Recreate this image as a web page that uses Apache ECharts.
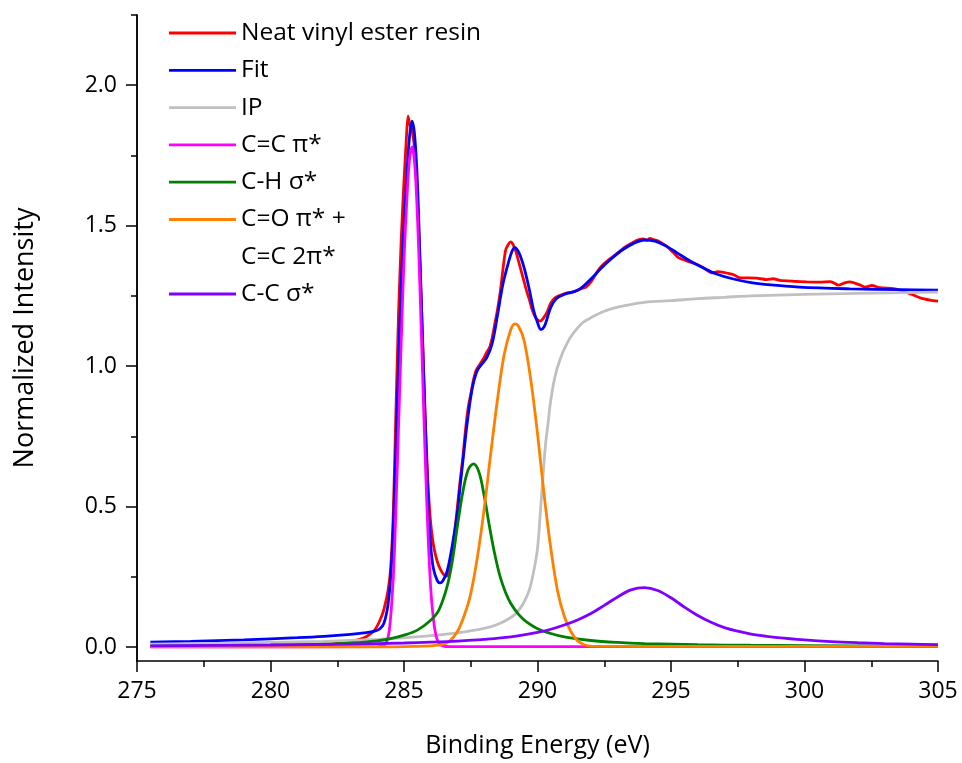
<!DOCTYPE html>
<html>
<head>
<meta charset="utf-8">
<script src="https://cdn.jsdelivr.net/npm/echarts@6/dist/echarts.min.js"></script>
<style>
  html, body { margin: 0; padding: 0; background: #fff; }
  #chart { width: 962px; height: 763px; }
</style>
</head>
<body>
<div id="chart"></div>
<script>
// NEXAFS carbon K-edge spectrum of neat vinyl ester resin and its peak fit

// Measured spectrum
const dataEnergy = [275.5, 277, 278.5, 280, 281, 282, 282.5, 283, 283.3, 283.6, 283.9, 284.1, 284.25, 284.4, 284.5,
  284.6, 284.7, 284.8, 284.9, 285.0, 285.1, 285.15, 285.22, 285.3, 285.4, 285.5, 285.6, 285.7, 285.8, 285.9,
  286.0, 286.1, 286.2, 286.3, 286.4, 286.5, 286.6, 286.7, 286.8, 286.9, 287.0, 287.1, 287.2, 287.3, 287.4,
  287.5, 287.6, 287.7, 287.8, 287.9, 288.0, 288.1, 288.2, 288.3, 288.4, 288.5, 288.6, 288.7, 288.8, 288.9,
  289.0, 289.1, 289.2, 289.3, 289.4, 289.5, 289.6, 289.7, 289.8, 289.9, 290.0, 290.1, 290.2, 290.35, 290.5,
  290.66, 290.85, 291.1, 291.35, 291.6, 291.8, 292.0, 292.2, 292.34, 292.5, 292.71, 292.9, 293.09, 293.3, 293.59,
  293.8, 293.96, 294.1, 294.21, 294.35, 294.52, 294.7, 294.84, 295.09, 295.28, 295.59, 295.9, 296.21, 296.52, 296.75,
  296.96, 297.33, 297.58, 297.9, 298.21, 298.58, 298.83, 299.08, 299.58, 300.08, 300.58, 300.96, 301.08, 301.27, 301.5,
  301.7, 302.02, 302.27, 302.52, 302.83, 303.33, 303.58, 303.95, 304.33, 304.7, 305.0];
const dataIntensity = [0.004, 0.004, 0.005, 0.006, 0.007, 0.01, 0.013, 0.02, 0.026, 0.037, 0.06, 0.095, 0.135, 0.2, 0.28,
  0.48, 0.85, 1.2, 1.46, 1.66, 1.83, 1.89, 1.86, 1.84, 1.77, 1.6, 1.36, 1.08, 0.8, 0.58,
  0.44, 0.365, 0.32, 0.29, 0.27, 0.256, 0.252, 0.27, 0.33, 0.41, 0.5, 0.59, 0.67, 0.77, 0.85,
  0.9, 0.95, 0.985, 1.0, 1.015, 1.03, 1.05, 1.065, 1.1, 1.15, 1.2, 1.26, 1.34, 1.41, 1.432,
  1.442, 1.43, 1.405, 1.37, 1.335, 1.3, 1.265, 1.235, 1.2, 1.178, 1.165, 1.16, 1.168, 1.19, 1.225,
  1.243, 1.252, 1.261, 1.264, 1.275, 1.28, 1.3, 1.33, 1.35, 1.365, 1.382, 1.395, 1.409, 1.425, 1.441,
  1.45, 1.453, 1.448, 1.455, 1.45, 1.445, 1.435, 1.427, 1.404, 1.386, 1.374, 1.365, 1.35, 1.332, 1.336,
  1.334, 1.326, 1.314, 1.314, 1.313, 1.308, 1.311, 1.305, 1.302, 1.3, 1.299, 1.301, 1.297, 1.288, 1.296,
  1.3, 1.291, 1.281, 1.287, 1.279, 1.276, 1.27, 1.258, 1.243, 1.235, 1.231];

// Total fit
const fitEnergy = [275.5, 277, 279, 281, 282, 283, 283.5, 283.9, 284.1, 284.25, 284.4, 284.5, 284.6, 284.7, 284.8,
  284.9, 285.0, 285.1, 285.2, 285.3, 285.4, 285.5, 285.6, 285.7, 285.8, 285.9, 286.0, 286.1, 286.25, 286.35,
  286.45, 286.6, 286.75, 286.85, 287.0, 287.1, 287.25, 287.35, 287.5, 287.6, 287.75, 287.9, 288.1, 288.3, 288.5,
  288.7, 288.9, 289.05, 289.15, 289.3, 289.5, 289.7, 289.85, 290.0, 290.13, 290.25, 290.35, 290.5, 290.7, 291.0,
  291.3, 291.6, 292.0, 292.4, 292.8, 293.2, 293.6, 294.0, 294.4, 294.8, 295.2, 295.7, 296.2, 296.7, 297.3,
  298.0, 298.6, 299.8, 301.7, 303.6, 305.0];
const fitIntensity = [0.017, 0.02, 0.025, 0.033, 0.038, 0.045, 0.05, 0.056, 0.065, 0.085, 0.15, 0.25, 0.43, 0.72, 1.02,
  1.3, 1.5, 1.67, 1.81, 1.872, 1.82, 1.66, 1.38, 1.08, 0.79, 0.53, 0.36, 0.28, 0.235, 0.228,
  0.235, 0.265, 0.33, 0.385, 0.48, 0.57, 0.7, 0.785, 0.89, 0.94, 0.985, 1.005, 1.03, 1.08, 1.18,
  1.29, 1.365, 1.41, 1.422, 1.405, 1.35, 1.27, 1.2, 1.155, 1.13, 1.14, 1.166, 1.21, 1.24, 1.255,
  1.263, 1.275, 1.31, 1.35, 1.385, 1.415, 1.437, 1.449, 1.445, 1.428, 1.405, 1.375, 1.35, 1.328, 1.311,
  1.297, 1.29, 1.281, 1.275, 1.272, 1.27];

// Ionization potential step
const ipEnergy = [275.5, 278, 280, 282, 284, 285, 286, 287, 288, 288.5, 289, 289.25, 289.5, 289.7, 289.85,
  290.0, 290.1, 290.2, 290.3, 290.4, 290.5, 290.65, 290.85, 291.1, 291.35, 291.7, 292.0, 292.5, 293.0, 294.0,
  295.0, 296.0, 297.0, 298.0, 300.0, 302.0, 305.0];
const ipIntensity = [0.01, 0.013, 0.016, 0.02, 0.027, 0.032, 0.04, 0.05, 0.066, 0.08, 0.105, 0.125, 0.16, 0.205, 0.265,
  0.35, 0.47, 0.6, 0.72, 0.8, 0.88, 0.96, 1.025, 1.08, 1.118, 1.155, 1.172, 1.195, 1.21, 1.227,
  1.233, 1.24, 1.245, 1.25, 1.255, 1.259, 1.263];

// C=C pi* resonance
const ccPiEnergy = [275.5, 284.0, 284.3, 284.45, 284.6, 284.7, 284.8, 284.9, 285.0, 285.1, 285.2, 285.3, 285.4, 285.5, 285.6,
  285.7, 285.8, 285.9, 286.0, 286.1, 286.2, 286.3, 286.45, 286.7, 305.0];
const ccPiIntensity = [0, 0.001, 0.01, 0.06, 0.25, 0.5, 0.8, 1.1, 1.38, 1.58, 1.73, 1.78, 1.72, 1.54, 1.27,
  0.96, 0.66, 0.4, 0.21, 0.1, 0.04, 0.015, 0.004, 0.001, 0.001];

// C-H sigma* resonance
const chSigmaEnergy = [275.5, 280, 282, 283, 284, 284.5, 285, 285.5, 286, 286.3, 286.6, 286.8, 287.0, 287.2, 287.4,
  287.6, 287.8, 288.0, 288.2, 288.4, 288.6, 288.8, 289.0, 289.3, 289.6, 290.0, 290.5, 291.0, 292.0, 293.0,
  294.0, 296.0, 298.0, 300.0, 305.0];
const chSigmaIntensity = [0.003, 0.006, 0.01, 0.014, 0.022, 0.03, 0.042, 0.06, 0.095, 0.13, 0.21, 0.3, 0.43, 0.55, 0.63,
  0.652, 0.625, 0.54, 0.43, 0.33, 0.25, 0.195, 0.155, 0.115, 0.088, 0.065, 0.048, 0.036, 0.023, 0.016,
  0.012, 0.008, 0.006, 0.005, 0.003];

// C=O pi* + C=C 2pi* resonance
const coPiEnergy = [275.5, 284.0, 285.5, 286.0, 286.4, 286.7, 287.0, 287.25, 287.5, 287.75, 288.0, 288.25, 288.5, 288.75, 289.0,
  289.15, 289.3, 289.5, 289.75, 290.0, 290.25, 290.5, 290.75, 291.0, 291.25, 291.5, 291.75, 292.0, 295.0, 305.0];
const coPiIntensity = [0, 0, 0.002, 0.004, 0.008, 0.02, 0.055, 0.11, 0.19, 0.32, 0.49, 0.69, 0.88, 1.04, 1.13,
  1.15, 1.14, 1.09, 0.95, 0.76, 0.54, 0.35, 0.2, 0.11, 0.055, 0.022, 0.008, 0.003, 0.002, 0.002];

// C-C sigma* resonance
const ccSigmaEnergy = [275.5, 280, 283, 285, 286, 287, 288, 289, 290, 290.5, 291, 291.5, 292, 292.5, 293,
  293.5, 294, 294.5, 295, 295.5, 296, 296.5, 297, 297.5, 298, 298.5, 299, 300, 301, 302, 303, 304, 305];
const ccSigmaIntensity = [0.004, 0.007, 0.01, 0.014, 0.017, 0.021, 0.027, 0.036, 0.052, 0.063, 0.078, 0.096, 0.119, 0.148, 0.178,
  0.203, 0.211, 0.201, 0.175, 0.142, 0.112, 0.088, 0.069, 0.056, 0.046, 0.039, 0.033, 0.025, 0.019, 0.015, 0.012, 0.01, 0.008];

// Axis tick values
const yMajorTicks = [0, 0.5, 1.0, 1.5, 2.0];
const yMinorTicks = [0.25, 0.75, 1.25, 1.75, 2.25];

const seriesNames = ['Neat vinyl ester resin', 'Fit', 'IP', 'C=C \u03c0*', 'C-H \u03c3*', 'C=O \u03c0* +', 'C-C \u03c3*'];
const seriesColors = ['#ff0000', '#0000ff', '#c0c0c0', '#ff00ff', '#008000', '#ff8000', '#8000ff'];

const zip = (xs, ys) => xs.map((x, i) => [x, ys[i]]);
const curves = [
  zip(dataEnergy, dataIntensity),
  zip(fitEnergy, fitIntensity),
  zip(ipEnergy, ipIntensity),
  zip(ccPiEnergy, ccPiIntensity),
  zip(chSigmaEnergy, chSigmaIntensity),
  zip(coPiEnergy, coPiIntensity),
  zip(ccSigmaEnergy, ccSigmaIntensity)
];

const FONT = 'Open Sans';
const black = '#000';
const TICK_FONT = 23;
const X_TITLE_FONT = 25;
const Y_TITLE_FONT = 27;
const LEGEND_FONT = 24.5;
const LINE_W = 2.8;

const chart = echarts.init(document.getElementById('chart'), null, { renderer: 'canvas' });

const yBase = {
  type: 'value',
  min: -0.05,
  max: 2.25,
  splitLine: { show: false },
  axisLine: { show: true, onZero: false, lineStyle: { color: black, width: 1.5 } }
};

const legendBase = {
  orient: 'vertical',
  left: 169,
  padding: 0,
  icon: 'rect',
  itemWidth: 67,
  itemHeight: LINE_W,
  selectedMode: false,
  textStyle: { fontFamily: FONT, fontSize: LEGEND_FONT, color: black, lineHeight: 28 }
};

chart.setOption({
  animation: false,
  backgroundColor: '#fff',
  textStyle: { fontFamily: FONT },
  grid: { left: 137, right: 24, top: 15, bottom: 102, containLabel: false },
  xAxis: {
    type: 'value',
    min: 275,
    max: 305,
    interval: 5,
    name: 'Binding Energy (eV)',
    nameLocation: 'middle',
    nameGap: 72,
    nameTextStyle: { fontFamily: FONT, fontSize: X_TITLE_FONT, color: black },
    axisLine: { show: true, onZero: false, lineStyle: { color: black, width: 1.5 } },
    axisTick: { show: true, inside: false, length: 11, lineStyle: { color: black, width: 1.5 } },
    minorTick: { show: true, splitNumber: 2, length: 6, lineStyle: { color: black, width: 1.5 } },
    axisLabel: { fontFamily: FONT, fontSize: TICK_FONT, color: black, margin: 19 },
    splitLine: { show: false },
    minorSplitLine: { show: false }
  },
  yAxis: [
    Object.assign({}, yBase, {
      name: 'Normalized Intensity',
      nameLocation: 'middle',
      nameGap: 98,
      nameTextStyle: { fontFamily: FONT, fontSize: Y_TITLE_FONT, color: black },
      axisTick: { show: true, inside: false, length: 11, customValues: yMajorTicks, lineStyle: { color: black, width: 1.5 } },
      axisLabel: {
        fontFamily: FONT, fontSize: TICK_FONT, color: black, margin: 20,
        customValues: yMajorTicks,
        formatter: v => v.toFixed(1)
      }
    }),
    Object.assign({}, yBase, {
      position: 'left',
      axisTick: { show: true, inside: false, length: 6, customValues: yMinorTicks, lineStyle: { color: black, width: 1.5 } },
      axisLabel: { show: false }
    })
  ],
  legend: [
    Object.assign({}, legendBase, {
      top: 19,
      itemGap: 9.3,
      data: seriesNames.slice(0, 6)
    }),
    Object.assign({}, legendBase, {
      top: 280,
      data: seriesNames.slice(6)
    })
  ],
  graphic: [
    {
      type: 'text',
      left: 241,
      top: 243,
      style: { text: 'C=C 2\u03c0*', font: LEGEND_FONT + 'px "Open Sans"', fill: black, lineHeight: 28 }
    }
  ],
  series: curves.map((pts, i) => ({
    name: seriesNames[i],
    type: 'line',
    data: pts,
    symbol: 'none',
    showSymbol: false,
    smooth: i === 0 ? 0.2 : 0.35,
    clip: true,
    lineStyle: { color: seriesColors[i], width: LINE_W },
    itemStyle: { color: seriesColors[i] },
    emphasis: { disabled: true }
  }))
});
</script>
</body>
</html>
